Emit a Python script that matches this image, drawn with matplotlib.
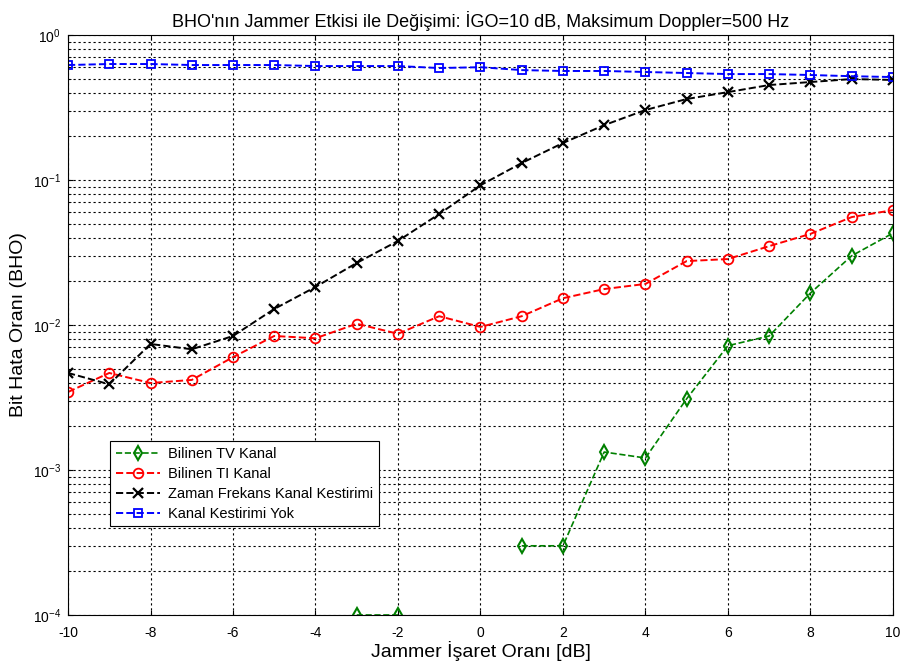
import numpy as np
import matplotlib.pyplot as plt

plt.rcParams['font.family'] = ['Liberation Sans', 'DejaVu Sans']
plt.rcParams['mathtext.fontset'] = 'custom'
plt.rcParams['mathtext.rm'] = 'Liberation Sans'
plt.rcParams['axes.unicode_minus'] = False

jsr = np.arange(-10, 11)

# nan = zero errors (not drawn on log axis)
nan = np.nan
tv_kanal = [nan, nan, nan, nan, nan, nan, nan, 1.0e-4, 1.0e-4, nan, nan,
            3.0e-4, 3.0e-4, 1.33e-3, 1.21e-3, 3.1e-3, 7.2e-3, 8.4e-3,
            1.66e-2, 3.0e-2, 4.3e-2]
ti_kanal = [3.45e-3, 4.67e-3, 3.98e-3, 4.18e-3, 6.0e-3, 8.4e-3, 8.1e-3,
            1.02e-2, 8.7e-3, 1.15e-2, 9.7e-3, 1.15e-2, 1.53e-2, 1.77e-2,
            1.92e-2, 2.76e-2, 2.85e-2, 3.5e-2, 4.25e-2, 5.55e-2, 6.2e-2]
zf_kestirim = [4.67e-3, 3.9e-3, 7.4e-3, 6.8e-3, 8.4e-3, 1.29e-2, 1.83e-2,
               2.68e-2, 3.8e-2, 5.83e-2, 9.2e-2, 0.131, 0.18, 0.239, 0.304,
               0.362, 0.404, 0.452, 0.474, 0.497, 0.49]
kestirim_yok = [0.621, 0.631, 0.631, 0.621, 0.621, 0.621, 0.611, 0.611,
                0.611, 0.592, 0.60, 0.573, 0.565, 0.565, 0.556, 0.547,
                0.538, 0.538, 0.53, 0.52, 0.513]

fig = plt.figure(figsize=(9.01, 6.66), dpi=100)
ax = fig.add_axes([0.0755, 0.0766, 0.9155, 0.8708])

ax.semilogy(jsr, tv_kanal, '--', color='green', marker='d', mfc='none',
            mew=1.5, ms=7, lw=1.2, label='Bilinen TV Kanal')
ax.semilogy(jsr, ti_kanal, '--', color='red', marker='o', mfc='none',
            mew=1.3, ms=7, lw=1.4, label='Bilinen TI Kanal')
ax.semilogy(jsr, zf_kestirim, '--', color='black', marker='x',
            mew=1.6, ms=7, lw=1.4, label='Zaman Frekans Kanal Kestirimi')
ax.semilogy(jsr, kestirim_yok, '--', color='blue', marker='s', mfc='none',
            mew=1.3, ms=6, lw=1.4, label='Kanal Kestirimi Yok')

ax.set_xlim(-10, 10)
ax.set_ylim(1e-4, 1)
ax.set_xticks(np.arange(-10, 11, 2))
ax.grid(True, which='both', color='black', linestyle=(0, (2, 2.5)), lw=0.8)
ax.tick_params(which='both', direction='in', top=True, right=True, labelsize=10)
ax.tick_params(axis='x', pad=8)
ax.tick_params(axis='y', pad=5)

ax.set_title("BHO'nın Jammer Etkisi ile Değişimi: İGO=10 dB, Maksimum Doppler=500 Hz",
             fontsize=13)
ax.set_xlabel('Jammer İşaret Oranı [dB]', fontsize=14, labelpad=1)
ax.set_ylabel('Bit Hata Oranı (BHO)', fontsize=14)

leg = ax.legend(loc='lower left', bbox_to_anchor=(0.042, 0.14), fontsize=10.5,
                fancybox=False, framealpha=1, edgecolor='black',
                handlelength=3, borderpad=0.4, labelspacing=0.4,
                handletextpad=0.6)
leg.get_frame().set_linewidth(0.8)

fig.savefig('out.png', dpi=100)
